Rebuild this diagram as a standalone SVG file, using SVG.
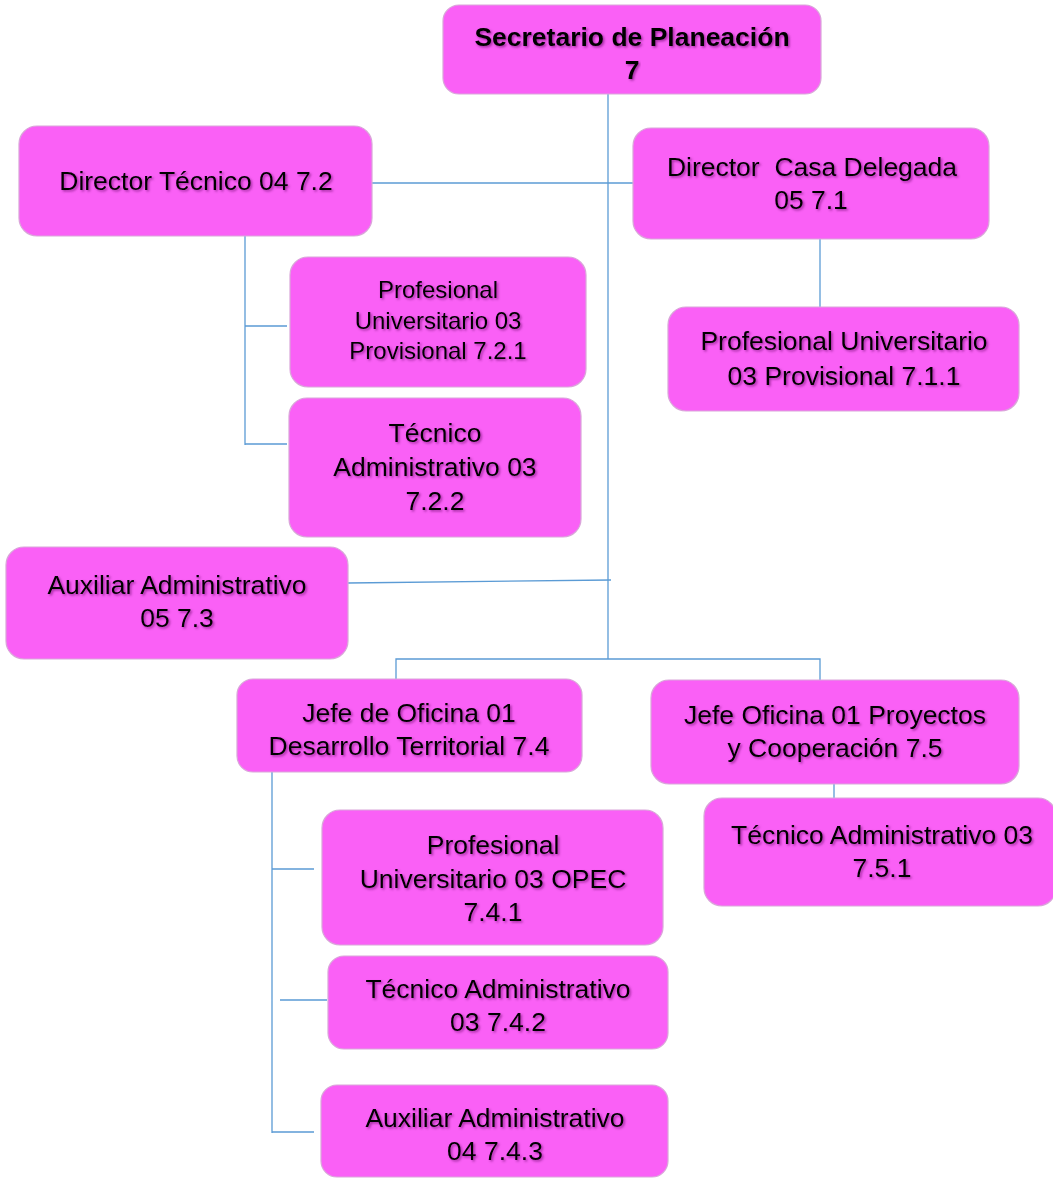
<svg xmlns="http://www.w3.org/2000/svg" width="1053" height="1178" viewBox="0 0 1053 1178">
<style>
.box{fill:#fa60f6;stroke:#d9a6d9;stroke-width:1.2}
.t{font-family:"Liberation Sans",Arial,sans-serif;font-size:26.5px;fill:#000;text-anchor:middle;filter:url(#sh)}
.s{font-size:24px}
.b{font-weight:bold}
.c{stroke:#5b9bd5;stroke-width:1.3;fill:none}
</style>
<defs>
<filter id="sh" x="-10%" y="-30%" width="120%" height="160%">
<feDropShadow dx="1.5" dy="1.5" stdDeviation="0.8" flood-color="#5a005a" flood-opacity="0.55"/>
</filter>
</defs>
<g id="connectors">
<path class="c" d="M608 94V659"/>
<path class="c" d="M372 183H633"/>
<path class="c" d="M245 236V445M245 326H287M245 444H287"/>
<path class="c" d="M820 239V307"/>
<path class="c" d="M348 583L611 580"/>
<path class="c" d="M396 679V659H820V680"/>
<path class="c" d="M834 784V798"/>
<path class="c" d="M272 772V1133M272 869H314M280 1000H327M272 1132H314"/>
</g>
<g id="n7"><rect class="box" x="443" y="5" width="378" height="89" rx="16"/><text class="t b" x="632" y="46">Secretario de Planeación</text><text class="t b" x="632" y="79">7</text></g>
<g id="n72"><rect class="box" x="19" y="126" width="353" height="110" rx="18"/><text class="t" x="196" y="190">Director Técnico 04 7.2</text></g>
<g id="n71"><rect class="box" x="633" y="128" width="356" height="111" rx="18"/><text class="t" x="812" y="176" xml:space="preserve">Director  Casa Delegada</text><text class="t" x="811" y="209">05 7.1</text></g>
<g id="n721"><rect class="box" x="290" y="257" width="296" height="130" rx="18"/><text class="t s" x="438" y="298">Profesional</text><text class="t s" x="438" y="329">Universitario 03</text><text class="t s" x="438" y="359">Provisional 7.2.1</text></g>
<g id="n722"><rect class="box" x="289" y="398" width="292" height="139" rx="18"/><text class="t" x="435" y="442">Técnico</text><text class="t" x="435" y="476">Administrativo 03</text><text class="t" x="435" y="510">7.2.2</text></g>
<g id="n711"><rect class="box" x="668" y="307" width="351" height="104" rx="18"/><text class="t" x="844" y="350">Profesional Universitario</text><text class="t" x="844" y="385">03 Provisional 7.1.1</text></g>
<g id="n73"><rect class="box" x="6" y="547" width="342" height="112" rx="18"/><text class="t" x="177" y="594">Auxiliar Administrativo</text><text class="t" x="177" y="627">05 7.3</text></g>
<g id="n74"><rect class="box" x="237" y="679" width="345" height="93" rx="16"/><text class="t" x="409" y="722">Jefe de Oficina 01</text><text class="t" x="409" y="755">Desarrollo Territorial 7.4</text></g>
<g id="n75"><rect class="box" x="651" y="680" width="368" height="104" rx="18"/><text class="t" x="835" y="724">Jefe Oficina 01 Proyectos</text><text class="t" x="835" y="757">y Cooperación 7.5</text></g>
<g id="n751"><rect class="box" x="704" y="798" width="352" height="108" rx="18"/><text class="t" x="882" y="844">Técnico Administrativo 03</text><text class="t" x="882" y="877">7.5.1</text></g>
<g id="n741"><rect class="box" x="322" y="810" width="341" height="135" rx="18"/><text class="t" x="493" y="854">Profesional</text><text class="t" x="493" y="888">Universitario 03 OPEC</text><text class="t" x="493" y="921">7.4.1</text></g>
<g id="n742"><rect class="box" x="328" y="956" width="340" height="93" rx="16"/><text class="t" x="498" y="998">Técnico Administrativo</text><text class="t" x="498" y="1031">03 7.4.2</text></g>
<g id="n743"><rect class="box" x="321" y="1085" width="347" height="92" rx="16"/><text class="t" x="495" y="1127">Auxiliar Administrativo</text><text class="t" x="495" y="1160">04 7.4.3</text></g>
</svg>
